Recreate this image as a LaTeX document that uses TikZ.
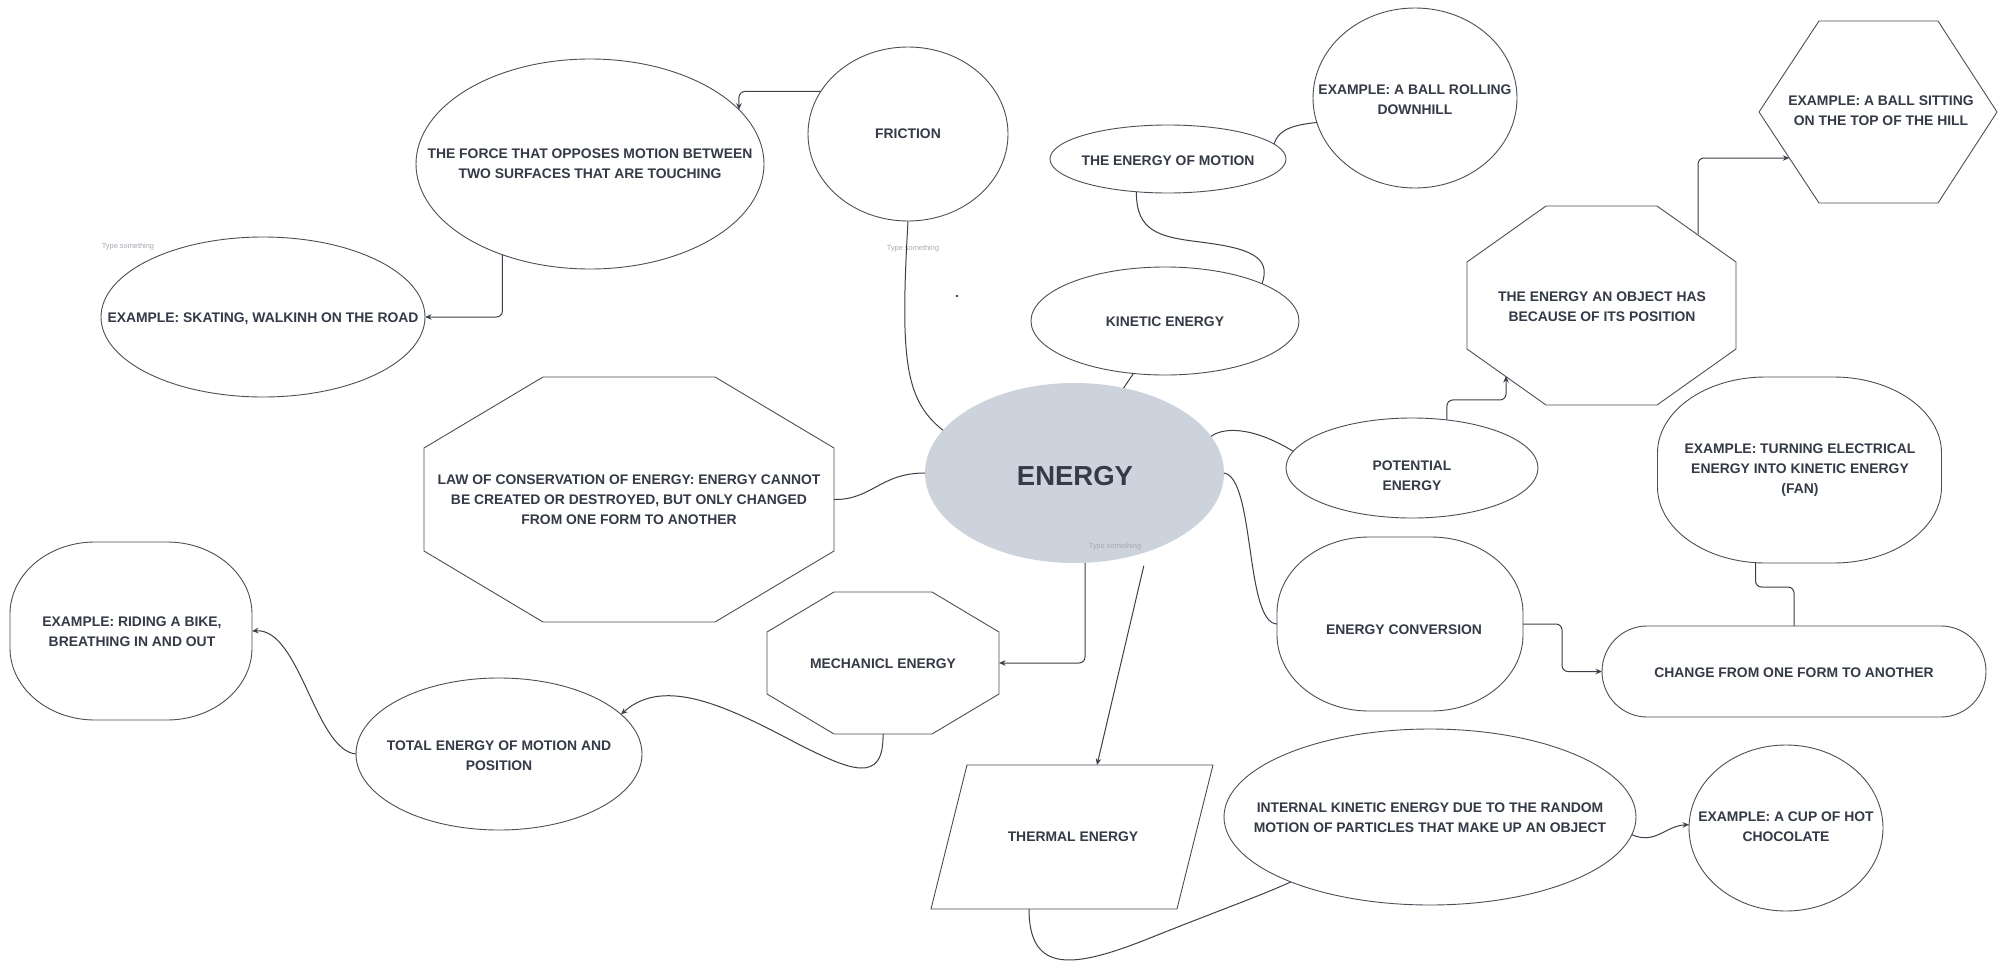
\documentclass[tikz,border=0pt]{standalone}
\usepackage{fontspec}
\setmainfont{Liberation Sans}
\usetikzlibrary{shapes.geometric,arrows.meta,calc}
\definecolor{txtc}{HTML}{343A46}
\definecolor{lin}{HTML}{4A4F58}
\definecolor{con}{HTML}{3C4049}
\definecolor{core}{HTML}{CDD3DC}
\definecolor{hint}{HTML}{A5A9B0}
\newcommand\lblfont{\fontsize{13.9}{20}\selectfont\bfseries}
\newcommand\bigfont{\fontsize{27.5}{30}\selectfont\bfseries}
\tikzset{
  shp/.style={draw=lin, line width=0.9pt, line join=round},
  oval/.style={ellipse, draw=lin, line width=0.9pt, inner sep=0pt, outer sep=0pt},
  ghost/.style={rectangle, draw=none, inner sep=0pt, outer sep=0pt},
  lbl/.style={align=center, font=\lblfont, text=txtc, inner sep=0pt},
  hintlbl/.style={font=\fontsize{7.4}{9}\selectfont, text=hint, inner sep=0pt},
  conn/.style={draw=con, line width=1pt},
  arr/.style={conn, -{Stealth[length=6.5pt,width=5.5pt]}}
}
% soft box with elliptical corners: cx, cy, half width, half height, rx, ry
\newcommand\softbox[6]{%
\begin{scope}[shift={(#1,#2)}]
\draw[shp] (-#3+#5,-#4) -- (#3-#5,-#4)
  .. controls (#3-0.448*#5,-#4) and (#3,-#4+0.448*#6) .. (#3,-#4+#6) -- (#3,#4-#6)
  .. controls (#3,#4-0.448*#6) and (#3-0.448*#5,#4) .. (#3-#5,#4) -- (-#3+#5,#4)
  .. controls (-#3+0.448*#5,#4) and (-#3,#4-0.448*#6) .. (-#3,#4-#6) -- (-#3,-#4+#6)
  .. controls (-#3,-#4+0.448*#6) and (-#3+0.448*#5,-#4) .. (-#3+#5,-#4) -- cycle;
\end{scope}}
% octagon drawn on a ghost node: name, corner dx, corner dy
\newcommand\octo[3]{%
\draw[shp] ([xshift=#2pt]#1.north west) -- ([xshift=-#2pt]#1.north east)
  -- ([yshift=-#3pt]#1.north east) -- ([yshift=#3pt]#1.south east)
  -- ([xshift=-#2pt]#1.south east) -- ([xshift=#2pt]#1.south west)
  -- ([yshift=#3pt]#1.south west) -- ([yshift=-#3pt]#1.north west) -- cycle;}
\begin{document}
\begin{tikzpicture}[x=1pt,y=-1pt]
\useasboundingbox (0,0) rectangle (2006,966);
\fill[white] (0,0) rectangle (2006,966);

% ---------- shapes ----------
\node[ellipse, fill=core, draw=none, inner sep=0pt, outer sep=0pt, minimum width=299pt, minimum height=180pt] (energy) at (1074.5,473) {};
\node[oval, minimum width=200pt, minimum height=174pt] (friction) at (908,134) {};
\node[oval, minimum width=348pt, minimum height=210pt] (force) at (590,164) {};
\node[oval, minimum width=324pt, minimum height=160pt] (skating) at (263,317) {};
\node[oval, minimum width=236pt, minimum height=68pt] (motion) at (1168,159) {};
\node[oval, minimum width=204pt, minimum height=180pt] (ball) at (1415,98) {};
\node[oval, minimum width=268pt, minimum height=108pt] (kinetic) at (1165,321) {};
\node[oval, minimum width=252pt, minimum height=100pt] (potential) at (1412,468) {};
\node[oval, minimum width=412pt, minimum height=176pt] (internal) at (1430,817) {};
\node[oval, minimum width=194pt, minimum height=166pt] (cup) at (1786,828) {};
\node[oval, minimum width=286pt, minimum height=152pt] (total) at (499,754) {};

\node[ghost, minimum width=410pt, minimum height=245pt] (law) at (629,499.5) {};
\octo{law}{119}{71}
\node[ghost, minimum width=232pt, minimum height=142pt] (mech) at (883,663) {};
\octo{mech}{67}{40}
\node[ghost, minimum width=269pt, minimum height=199pt] (pos) at (1601.5,305.5) {};
\octo{pos}{79}{56}
\node[ghost, minimum width=238pt, minimum height=182pt] (hex) at (1878,112) {};
\draw[shp] ([xshift=60pt]hex.north west) -- ([xshift=-59pt]hex.north east) -- (hex.east)
  -- ([xshift=-59pt]hex.south east) -- ([xshift=60pt]hex.south west) -- (hex.west) -- cycle;
\node[ghost, minimum width=282pt, minimum height=144pt] (thermal) at (1072,837) {};
\draw[shp] ([xshift=36pt]thermal.north west) -- (thermal.north east)
  -- ([xshift=-36pt]thermal.south east) -- (thermal.south west) -- cycle;

\node[ghost, minimum width=242pt, minimum height=178pt] (riding) at (131,631) {};
\softbox{131}{631}{121}{89}{85}{72}
\node[ghost, minimum width=284pt, minimum height=186pt] (turning) at (1799.5,470) {};
\softbox{1799.5}{470}{142}{93}{108}{76}
\node[ghost, minimum width=246pt, minimum height=174pt] (conv) at (1400,624) {};
\softbox{1400}{624}{123}{87}{92}{76}
\node[ghost, minimum width=384pt, minimum height=91pt] (change) at (1794,671.5) {};
\softbox{1794}{671.5}{192}{45.5}{45}{45.5}

% ---------- labels ----------
\node[font=\bigfont, text=txtc, inner sep=0pt] (energyT) at (1075,476) {ENERGY};
\node[lbl] (frictionT) at (908,134) {FRICTION};
\node[lbl] (forceT) at (590,164) {THE FORCE THAT OPPOSES MOTION BETWEEN\\TWO SURFACES THAT ARE TOUCHING};
\node[lbl] (skatingT) at (263,319) {EXAMPLE: SKATING, WALKINH ON THE ROAD};
\node[lbl] (motionT) at (1168,161) {THE ENERGY OF MOTION};
\node[lbl] (ballT) at (1415,100) {EXAMPLE: A BALL ROLLING\\DOWNHILL};
\node[lbl] (kineticT) at (1165,322) {KINETIC ENERGY};
\node[lbl] (hexT) at (1881,111) {EXAMPLE: A BALL SITTING\\ON THE TOP OF THE HILL};
\node[lbl] (posT) at (1602,307) {THE ENERGY AN OBJECT HAS\\BECAUSE OF ITS POSITION};
\node[lbl] (potentialT) at (1412,476) {POTENTIAL\\ENERGY};
\node[lbl] (turningT) at (1800,470) {EXAMPLE: TURNING ELECTRICAL\\ENERGY INTO KINETIC ENERGY\\(FAN)};
\node[lbl] (convT) at (1404,630) {ENERGY CONVERSION};
\node[lbl] (changeT) at (1794,673) {CHANGE FROM ONE FORM TO ANOTHER};
\node[lbl] (internalT) at (1430,818) {INTERNAL KINETIC ENERGY DUE TO THE RANDOM\\MOTION OF PARTICLES THAT MAKE UP AN OBJECT};
\node[lbl] (cupT) at (1786,827) {EXAMPLE: A CUP OF HOT\\CHOCOLATE};
\node[lbl] (thermalT) at (1073,837) {THERMAL ENERGY};
\node[lbl] (mechT) at (883,664) {MECHANICL ENERGY};
\node[lbl] (totalT) at (499,756) {TOTAL ENERGY OF MOTION AND\\POSITION};
\node[lbl] (ridingT) at (132,632) {EXAMPLE: RIDING A BIKE,\\BREATHING IN AND OUT};
\node[lbl] (lawT) at (629,500) {LAW OF CONSERVATION OF ENERGY: ENERGY CANNOT\\BE CREATED OR DESTROYED, BUT ONLY CHANGED\\FROM ONE FORM TO ANOTHER};

\node[hintlbl] (hint1) at (128,247) {Type something};
\node[hintlbl] (hint2) at (913,249) {Type something};
\node[hintlbl] (hint3) at (1115,547) {Type something};
\node[circle, fill=con, inner sep=0pt, minimum size=2.6pt] (dot) at (957,296) {};

% ---------- connectors ----------
\draw[conn] (friction.south) .. controls (900,360) and (905,400) .. (energy.162);
\draw[arr, rounded corners=6pt] (friction.154) -| (force.20.85);
\draw[arr, rounded corners=6pt] (force.-134.7) |- (skating.east);
\draw[conn] (law.east) .. controls (872,500) and (880,473) .. (energy.west);
\draw[conn] (kinetic.-121.4) -- (energy.60);
\draw[conn] (motion.-134.4) .. controls (1136,232) and (1160,237) .. (1200,242)
  .. controls (1248,248) and (1272,256) .. (kinetic.21);
\draw[conn] (motion.8.7) .. controls (1278,130) and (1292,125) .. (ball.194);
\draw[conn] (energy.15) .. controls (1222,428) and (1250,425) .. (potential.172);
\draw[arr, rounded corners=6pt] (potential.54) -- ++(0,-20) -| ([xshift=39pt,yshift=29pt]pos.south west);
\draw[arr, rounded corners=6pt] ([xshift=-38pt,yshift=-28.4pt]pos.north east) |- ([xshift=30.3pt,yshift=-46pt]hex.west);
\draw[conn] (energy.east) .. controls (1255,478) and (1245,623) .. (conv.west);
\draw[arr, rounded corners=6pt] (conv.east) -- ++(39,0) |- (change.west);
\draw[conn, rounded corners=6pt] (change.north) -- ++(0,-39) -| ([xshift=-44pt]turning.south);
\draw[arr, rounded corners=6pt] ([xshift=10.5pt]energy.south) |- (mech.east);
\draw[arr] (mech.south) .. controls (884,785) and (850,770) .. (800,745)
  .. controls (730,708) and (665,675) .. (total.18.7);
\draw[arr] (total.west) .. controls (315,750) and (300,628) .. (riding.east);
\draw[arr] ([yshift=-13pt]energy.-49.4) -- ([xshift=25pt]thermal.north);
\draw[conn] ([xshift=-43pt]thermal.south) .. controls (1029,975) and (1075,968) .. (1150,938)
  .. controls (1220,910) and (1260,896) .. (internal.205.4);
\draw[arr] (internal.-5.9) .. controls (1655,845) and (1665,826) .. (cup.178);
\end{tikzpicture}
\end{document}
